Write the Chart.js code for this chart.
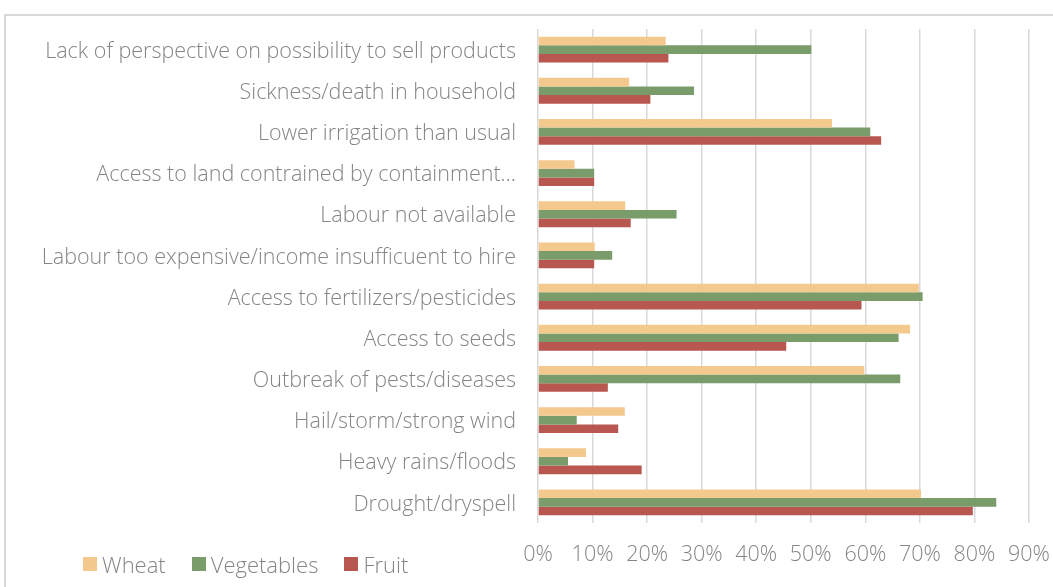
<!DOCTYPE html>
<html lang="en">
<head>
    <meta charset="UTF-8">
    <meta name="viewport" content="width=device-width, initial-scale=1.0">
    <title>Constraints to production</title>
    <script src="https://cdn.jsdelivr.net/npm/chart.js"></script>
    <style>
        html, body {
            margin: 0;
            padding: 0;
            background: #ffffff;
            overflow: hidden;
        }
        .frame {
            position: absolute;
            left: 4px;
            top: 14px;
            width: 1100px;
            height: 640px;
            border: 2px solid #d9d9d9;
            box-sizing: border-box;
        }
        .chart-box {
            position: absolute;
            left: 0;
            top: 0;
            width: 1053px;
            height: 587px;
        }
        .legend {
            position: absolute;
            left: 83px;
            top: 549px;
            display: flex;
            align-items: center;
            font-family: "Open Sans", sans-serif;
            font-weight: 300;
            font-size: 22px;
            color: #858585;
        }
        .legend-item {
            display: flex;
            align-items: center;
            margin-right: 26px;
        }
        .legend-swatch {
            width: 14px;
            height: 14px;
            margin-right: 5px;
        }
    </style>
</head>
<body>
    <div class="frame"></div>
    <div class="chart-box">
        <canvas id="constraints-chart" width="1053" height="587"></canvas>
    </div>
    <div class="legend" id="legend"></div>

    <script>
        // categories, top to bottom
        const categories = [
            'Lack of perspective on possibility to sell products',
            'Sickness/death in household',
            'Lower irrigation than usual',
            'Access to land contrained by containment\u2026',
            'Labour not available',
            'Labour too expensive/income insufficuent to hire',
            'Access to fertilizers/pesticides',
            'Access to seeds',
            'Outbreak of pests/diseases',
            'Hail/storm/strong wind',
            'Heavy rains/floods',
            'Drought/dryspell'
        ];

        // share of households reporting each constraint (%)
        const wheat = [23.4, 16.7, 53.9, 6.7, 16.0, 10.4, 69.8, 68.2, 59.8, 15.9, 8.8, 70.2];
        const vegetables = [50.1, 28.6, 60.9, 10.3, 25.4, 13.6, 70.5, 66.1, 66.4, 7.1, 5.5, 84.0];
        const fruit = [23.9, 20.6, 62.9, 10.3, 17.0, 10.3, 59.3, 45.5, 12.8, 14.7, 19.0, 79.7];

        const seriesNames = ['Wheat', 'Vegetables', 'Fruit'];
        const seriesColors = ['#F3C98E', '#7A9B6A', '#B85650'];

        const xTicks = [0, 10, 20, 30, 40, 50, 60, 70, 80, 90];

        const textColor = '#858585';
        const gridColor = '#d9d9d9';
        const fontFamily = '"Open Sans", sans-serif';

        const datasets = [wheat, vegetables, fruit].map((values, i) => ({
            label: seriesNames[i],
            data: values,
            backgroundColor: seriesColors[i],
            borderWidth: 0,
            barPercentage: 1,
            categoryPercentage: 0.627
        }));

        const chart = new Chart(document.getElementById('constraints-chart'), {
            type: 'bar',
            data: {
                labels: categories,
                datasets: datasets
            },
            options: {
                indexAxis: 'y',
                responsive: false,
                animation: false,
                layout: {
                    padding: { top: 29, right: 24, left: 0, bottom: 0 }
                },
                plugins: {
                    legend: { display: false },
                    tooltip: { enabled: false }
                },
                scales: {
                    x: {
                        min: xTicks[0],
                        max: xTicks[xTicks.length - 1],
                        afterBuildTicks: (scale) => {
                            scale.ticks = xTicks.map(v => ({ value: v }));
                        },
                        afterFit: (scale) => {
                            // keep the plot edges fixed, labels may overhang
                            scale.height = 64;
                            scale.paddingLeft = 0;
                            scale.paddingRight = 0;
                        },
                        border: { display: false },
                        grid: {
                            color: gridColor,
                            lineWidth: 1.5,
                            drawTicks: false
                        },
                        ticks: {
                            padding: 19,
                            color: textColor,
                            font: { family: fontFamily, size: 21.5, weight: '300' },
                            callback: (value) => value + '%'
                        }
                    },
                    y: {
                        afterFit: (scale) => {
                            scale.width = 538;
                            scale.paddingTop = 0;
                            scale.paddingBottom = 0;
                        },
                        border: { display: false },
                        grid: { display: false, drawTicks: false },
                        ticks: {
                            padding: 22,
                            labelOffset: 2,
                            color: textColor,
                            autoSkip: false,
                            font: { family: fontFamily, size: 21.5, weight: '300' }
                        }
                    }
                }
            }
        });

        // legend built from the same series
        const legend = document.getElementById('legend');
        seriesNames.forEach((name, i) => {
            const item = document.createElement('div');
            item.className = 'legend-item';
            item.innerHTML = `<span class="legend-swatch" style="background:${seriesColors[i]}"></span><span>${name}</span>`;
            legend.appendChild(item);
        });
    </script>
</body>
</html>
